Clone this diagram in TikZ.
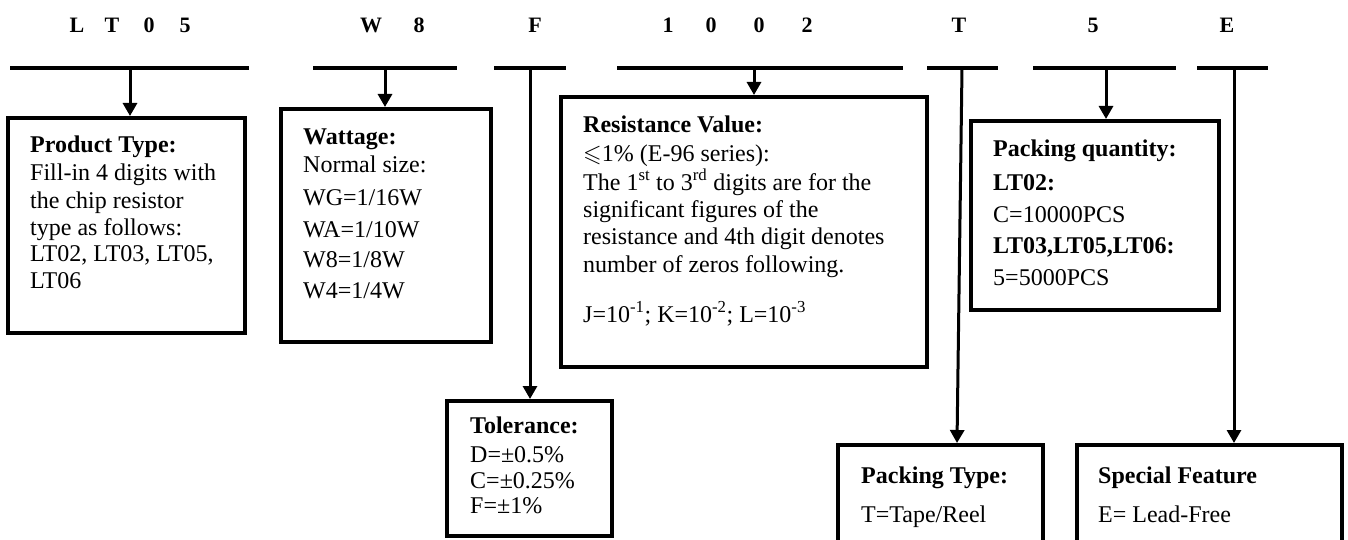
\documentclass[tikz,border=0pt]{standalone}
\usepackage{fontspec}
\setmainfont{Liberation Serif}
\usepackage{amssymb}
\usetikzlibrary{arrows.meta}
\begin{document}
\begin{tikzpicture}[x=1pt,y=-1pt,
  hdr/.style={font=\fontsize{22}{26}\selectfont\bfseries, anchor=base, inner sep=0pt},
  bar/.style={line width=4pt},
  box/.style={draw, line width=4pt, rectangle, inner sep=0pt, outer sep=2pt},
  ln/.style={font=\fontsize{24}{28}\selectfont, anchor=base west, inner sep=0pt},
  bl/.style={font=\fontsize{24}{28}\selectfont\bfseries, anchor=base west, inner sep=0pt},
  conn/.style={line width=3pt, -{Triangle[width=14pt,length=13pt]}},
]
\useasboundingbox (0,0) rectangle (1348,540);
\clip (0,0) rectangle (1348,540);

% header letters
\node[hdr] (h1) at (77,33) {L};
\node[hdr] (h2) at (112,33) {T};
\node[hdr] (h3) at (149,33) {0};
\node[hdr] (h4) at (185,33) {5};
\node[hdr] (h5) at (371,33) {W};
\node[hdr] (h6) at (419,33) {8};
\node[hdr] (h7) at (535,33) {F};
\node[hdr] (h8) at (668,33) {1};
\node[hdr] (h9) at (711,33) {0};
\node[hdr] (h10) at (759,33) {0};
\node[hdr] (h11) at (807,33) {2};
\node[hdr] (h12) at (959,33) {T};
\node[hdr] (h13) at (1093,33) {5};
\node[hdr] (h14) at (1227,33) {E};

% bars
\draw[bar] (10,68) -- (249,68);
\draw[bar] (313,68) -- (457,68);
\draw[bar] (494,68) -- (566,68);
\draw[bar] (617,68) -- (903,68);
\draw[bar] (927,68) -- (998,68);
\draw[bar] (1033,68) -- (1176,68);
\draw[bar] (1197,68) -- (1268,68);

\coordinate (p1) at (130,68);
\coordinate (p2) at (385,68);
\coordinate (p3) at (530,68);
\coordinate (p4) at (754,68);
\coordinate (p5) at (962,68);
\coordinate (p6) at (1106,68);
\coordinate (p7) at (1234,68);

% boxes
\node[box, minimum width=237pt, minimum height=215pt] (b1) at (126.5,225.5) {};
\node[box, minimum width=210pt, minimum height=233pt] (b2) at (386,225.5) {};
\node[box, minimum width=165pt, minimum height=135pt] (b3) at (529.5,468.5) {};
\node[box, minimum width=366pt, minimum height=270pt] (b4) at (744,232) {};
\node[box, minimum width=205pt, minimum height=135pt] (b5) at (940.5,512.5) {};
\node[box, minimum width=248pt, minimum height=189pt] (b6) at (1095,215.5) {};
\node[box, minimum width=265pt, minimum height=135pt] (b7) at (1209.5,512.5) {};

% connectors
\draw[conn] (p1) -- (p1 |- b1.north);
\draw[conn] (p2) -- (p2 |- b2.north);
\draw[conn] (p3) -- (p3 |- b3.north);
\draw[conn] (p4) -- (p4 |- b4.north);
\draw[conn] (p5) -- ([xshift=16.5pt]b5.north);
\draw[conn] (p6) -- (p6 |- b6.north);
\draw[conn] (p7) -- (p7 |- b7.north);

% box 1 text
\node[bl] (t1a) at (30,153) {Product Type:};
\node[ln] (t1b) at (30,181) {Fill-in 4 digits with};
\node[ln] (t1c) at (30,208) {the chip resistor};
\node[ln] (t1d) at (30,235) {type as follows:};
\node[ln] (t1e) at (30,261) {LT02, LT03, LT05,};
\node[ln] (t1f) at (30,288) {LT06};

% box 2 text
\node[bl] (t2a) at (303,145) {Wattage:};
\node[ln] (t2b) at (303,173) {Normal size:};
\node[ln] (t2c) at (303,205) {WG=1/16W};
\node[ln] (t2d) at (303,237) {WA=1/10W};
\node[ln] (t2e) at (303,267) {W8=1/8W};
\node[ln] (t2f) at (303,298) {W4=1/4W};

% tolerance text
\node[bl] (t3a) at (470,433) {Tolerance:};
\node[ln] (t3b) at (470,462) {D=±0.5\%};
\node[ln] (t3c) at (470,488) {C=±0.25\%};
\node[ln] (t3d) at (470,513) {F=±1\%};

% resistance text
\node[bl] (t4a) at (583,133) {Resistance Value:};
\node[ln] (t4b) at (583,162) {$\leqslant$1\% (E-96 series):};
\node[ln] (t4c) at (583,190) {The 1\textsuperscript{st} to 3\textsuperscript{rd} digits are for the};
\node[ln] (t4d) at (583,217) {significant figures of the};
\node[ln] (t4e) at (583,244) {resistance and 4th digit denotes};
\node[ln] (t4f) at (583,272) {number of zeros following.};
\node[ln] (t4g) at (583,322) {J=10\textsuperscript{-1}; K=10\textsuperscript{-2}; L=10\textsuperscript{-3}};

% packing type text
\node[bl] (t5a) at (861,483) {Packing Type:};
\node[ln] (t5b) at (861,522) {T=Tape/Reel};

% packing quantity text
\node[bl] (t6a) at (993,157) {Packing quantity:};
\node[bl] (t6b) at (993,190) {LT02:};
\node[ln] (t6c) at (993,222) {C=10000PCS};
\node[bl] (t6d) at (993,253) {LT03,LT05,LT06:};
\node[ln] (t6e) at (993,285) {5=5000PCS};

% special feature text
\node[bl] (t7a) at (1098,483) {Special Feature};
\node[ln] (t7b) at (1098,522) {E= Lead-Free};
\end{tikzpicture}
\end{document}
